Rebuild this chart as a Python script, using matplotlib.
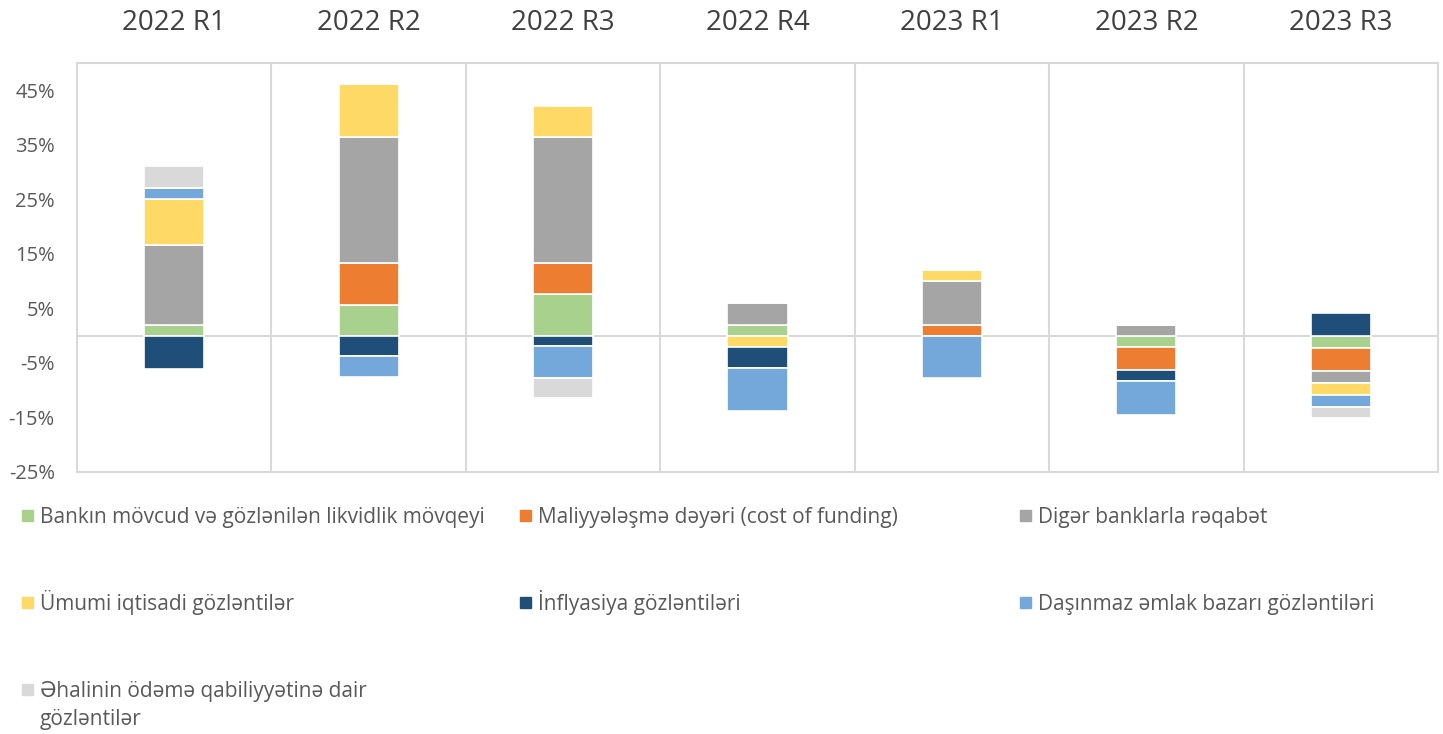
import numpy as np
import matplotlib
matplotlib.use('Agg')
import matplotlib.pyplot as plt
from matplotlib.patches import Rectangle

plt.rcParams['font.family'] = ['Open Sans', 'DejaVu Sans']

quarters = ['2022 R1', '2022 R2', '2022 R3', '2022 R4', '2023 R1', '2023 R2', '2023 R3']

series_names = [
  'Bankın mövcud və gözlənilən likvidlik mövqeyi',
  'Maliyyələşmə dəyəri (cost of funding)',
  'Digər banklarla rəqabət',
  'Ümumi iqtisadi gözləntilər',
  'İnflyasiya gözləntiləri',
  'Daşınmaz əmlak bazarı gözləntiləri',
  'Əhalinin ödəmə qabiliyyətinə dair\ngözləntilər',
]
series_colors = ['#A9D18E', '#ED7D31', '#A5A5A5', '#FFD966', '#1F4E79', '#74A8DA', '#D9D9D9']

# values in %
liquidity   = [2.0, 5.7, 7.6, 2.0, 0.0, -2.1, -2.2]
funding     = [0.0, 7.7, 5.8, 0.0, 2.0, -4.2, -4.3]
competition = [14.7, 23.1, 23.1, 3.9, 8.0, 1.9, -2.1]
economy     = [8.3, 9.6, 5.6, -2.0, 2.0, 0.0, -2.3]
inflation   = [-6.1, -3.8, -1.9, -4.0, 0.0, -2.0, 4.2]
real_estate = [2.1, -3.7, -5.8, -7.9, -7.8, -6.2, -2.1]
solvency    = [4.1, 0.0, -3.7, 0.0, 0.0, 0.0, -2.1]

series_values = [liquidity, funding, competition, economy, inflation, real_estate, solvency]


def plot_stacked(ax):
  """
    Stacked bars, positives upward and negatives downward from zero
  """
  x = np.arange(len(quarters))
  pos_bottom = np.zeros(len(quarters))
  neg_bottom = np.zeros(len(quarters))
  for vals, color in zip(series_values, series_colors):
    vals = np.array(vals)
    bottom = np.where(vals >= 0, pos_bottom, neg_bottom)
    ax.bar(x, vals, width=0.31, bottom=bottom, color=color,
           edgecolor='white', linewidth=1.2, zorder=3)
    pos_bottom = pos_bottom + np.clip(vals, 0, None)
    neg_bottom = neg_bottom + np.clip(vals, None, 0)


fig = plt.figure(figsize=(14.43, 7.34), dpi=100)
ax = fig.add_axes([77 / 1443, 1 - 472 / 734, 1361 / 1443, 409 / 734])

plot_stacked(ax)

ax.set_xlim(-0.5, len(quarters) - 0.5)
ax.set_ylim(-25, 50)
ax.set_yticks(np.arange(-25, 46, 10))
ax.set_yticklabels([f'{v}%' for v in range(-25, 46, 10)])

grid_col = '#D9D9D9'
for k in range(1, len(quarters)):
  ax.axvline(k - 0.5, color=grid_col, linewidth=1.5, zorder=1)
ax.axhline(0, color=grid_col, linewidth=1.5, zorder=2)
for s in ax.spines.values():
  s.set_color(grid_col)
  s.set_linewidth(1.5)

ax.xaxis.tick_top()
ax.set_xticks(np.arange(len(quarters)))
ax.set_xticklabels(quarters, fontsize=20, color='#404040')
ax.tick_params(axis='x', length=0, pad=19)
ax.tick_params(axis='y', length=0, labelsize=14.5, labelcolor='#595959', pad=16)

# legend laid out like the original: three columns, wide rows
W, H = 1443, 734
col_x = [22, 520, 1020]
row_y = [516, 603, 690]
for i, (name, color) in enumerate(zip(series_names, series_colors)):
  cx = col_x[i % 3]
  cy = row_y[i // 3]
  fig.add_artist(Rectangle((cx / W, 1 - (cy + 5) / H), 11 / W, 11 / H,
                           transform=fig.transFigure, color=color))
  first, _, rest = name.partition('\n')
  fig.text((cx + 18) / W, 1 - (cy + 7) / H, first, fontsize=15,
           color='#595959', va='baseline', ha='left')
  if rest:
    fig.text((cx + 18) / W, 1 - (cy + 35) / H, rest, fontsize=15,
             color='#595959', va='baseline', ha='left')

fig.savefig('out.png', dpi=100)
